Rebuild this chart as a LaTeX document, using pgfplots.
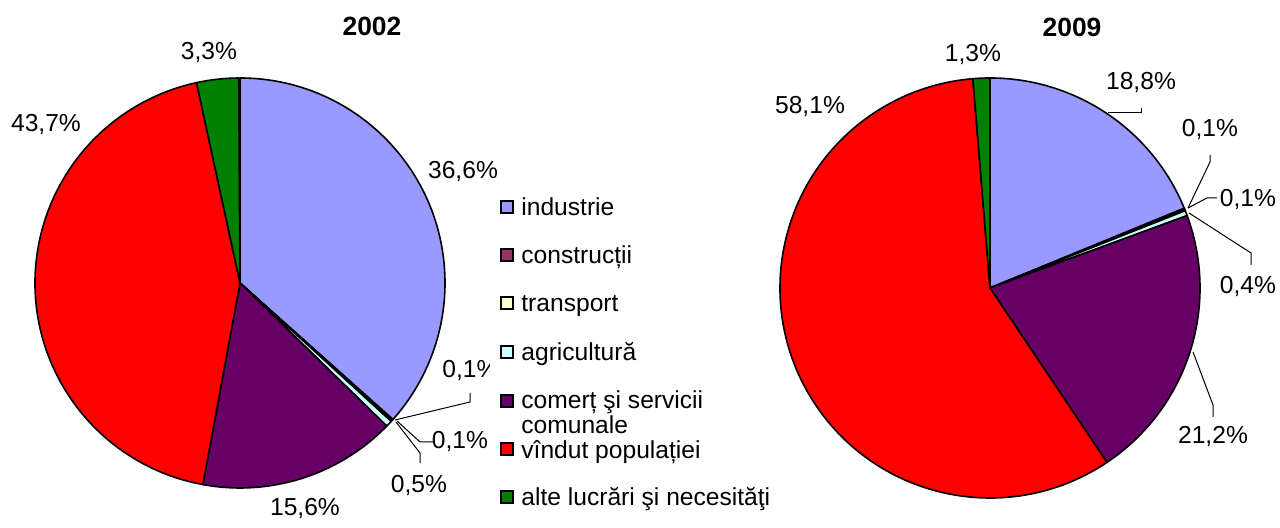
\documentclass[border=0pt]{standalone}
\usepackage{pgfplots}
\pgfplotsset{compat=1.18}
\usepackage{pgfplotstable}
\usepackage{fontspec}
\setmainfont{Liberation Sans}

\definecolor{indus}{HTML}{9999FF}
\definecolor{constr}{HTML}{993366}
\definecolor{transp}{HTML}{FFFFCC}
\definecolor{agri}{HTML}{CCFFFF}
\definecolor{comert}{HTML}{660066}
\definecolor{vindut}{HTML}{FF0000}
\definecolor{alte}{HTML}{008000}

% shares in percent, clockwise from 12 o'clock
\pgfplotstableread{
val col
36.6 indus
0.1 constr
0.1 transp
0.5 agri
15.6 comert
43.7 vindut
3.3 alte
}\yrA
\pgfplotstableread{
val col
18.8 indus
0.1 constr
0.1 transp
0.4 agri
21.2 comert
58.1 vindut
1.3 alte
}\yrB

% #1 table, #2 centre x, #3 centre y, #4 radius
\newcommand\pie[4]{%
  \pgfplotstablegetrowsof{#1}%
  \pgfmathtruncatemacro\pieLast{\pgfplotsretval-1}%
  \def\pieCum{0}%
  \pgfplotsforeachungrouped \i in {0,...,\pieLast}{%
    \pgfplotstablegetelem{\i}{val}\of{#1}\let\pieV\pgfplotsretval
    \pgfplotstablegetelem{\i}{col}\of{#1}\let\pieC\pgfplotsretval
    \pgfmathsetmacro\pieS{90-3.6*\pieCum}%
    \pgfmathsetmacro\pieCum{\pieCum+\pieV}%
    \pgfmathsetmacro\pieE{90-3.6*\pieCum}%
    \edef\temp{\noexpand\filldraw[fill=\pieC,draw=black,line width=0.8pt,line join=round]
      (axis cs:#2,#3) -- ++(\pieS:#4) arc[start angle=\pieS,end angle=\pieE,radius=#4] -- cycle;}%
    \temp
  }%
}

\tikzset{lab/.style={font=\fontsize{12.3pt}{14pt}\selectfont,inner sep=0pt,text height=8.86pt,text depth=0pt}}

\begin{document}
\begin{tikzpicture}
\begin{axis}[
  x=0.5pt,y=0.5pt,xmin=0,xmax=1280,ymin=0,ymax=519,
  hide axis,clip=false,scale only axis
]
\path (axis cs:0,0) rectangle (axis cs:1280,519);

\pie{\yrA}{240}{236}{102.5pt}
\pie{\yrB}{990}{231}{105pt}

% 2002
\node[lab,font=\bfseries\fontsize{13.2pt}{15pt}\selectfont] at (axis cs:372,492) {2002};
\node[lab] at (axis cs:209,468) {3,3\%};
\node[lab] at (axis cs:46,396) {43,7\%};
\node[lab] at (axis cs:463,349) {36,6\%};
\node[lab,anchor=west] at (axis cs:442,150) {0,1\%};
\node[lab] at (axis cs:460,79) {0,1\%};
\node[lab] at (axis cs:419,35) {0,5\%};
\node[lab] at (axis cs:305,12) {15,6\%};
\draw[line width=0.5pt] (axis cs:395,99) -- (axis cs:470,117) -- (axis cs:470,126);
\draw[line width=0.5pt] (axis cs:397,98) -- (axis cs:420,77) -- (axis cs:433,77);
\draw[line width=0.5pt] (axis cs:396,97) -- (axis cs:420,66) -- (axis cs:420,56);

% 2009
\node[lab,font=\bfseries\fontsize{13.2pt}{15pt}\selectfont] at (axis cs:1072,491) {2009};
\node[lab] at (axis cs:973,466) {1,3\%};
\node[lab] at (axis cs:1141,438) {18,8\%};
\node[lab] at (axis cs:810,414) {58,1\%};
\node[lab] at (axis cs:1210,391) {0,1\%};
\node[lab] at (axis cs:1248,321) {0,1\%};
\node[lab] at (axis cs:1248,234) {0,4\%};
\node[lab] at (axis cs:1213,84) {21,2\%};
\draw[line width=0.5pt] (axis cs:1108,406) -- (axis cs:1141,406) -- (axis cs:1141,411);
\draw[line width=0.5pt] (axis cs:1188,311) -- (axis cs:1210,357) -- (axis cs:1210,364);
\draw[line width=0.5pt] (axis cs:1188,311) -- (axis cs:1207,321) -- (axis cs:1217,321);
\draw[line width=0.5pt] (axis cs:1189,306) -- (axis cs:1251,266) -- (axis cs:1251,254);
\draw[line width=0.5pt] (axis cs:1193,167) -- (axis cs:1213,114) -- (axis cs:1213,102);

% legend
\fill[white] (axis cs:490,4) rectangle (axis cs:775,334);
\filldraw[fill=indus,draw=black,line width=0.8pt] (axis cs:501,306) rectangle (axis cs:513,318);
\filldraw[fill=constr,draw=black,line width=0.8pt] (axis cs:501,258) rectangle (axis cs:513,270);
\filldraw[fill=transp,draw=black,line width=0.8pt] (axis cs:501,210) rectangle (axis cs:513,222);
\filldraw[fill=agri,draw=black,line width=0.8pt] (axis cs:501,161) rectangle (axis cs:513,173);
\filldraw[fill=comert,draw=black,line width=0.8pt] (axis cs:501,112) rectangle (axis cs:513,124);
\filldraw[fill=vindut,draw=black,line width=0.8pt] (axis cs:501,64) rectangle (axis cs:513,76);
\filldraw[fill=alte,draw=black,line width=0.8pt] (axis cs:501,16) rectangle (axis cs:513,28);
\node[lab,anchor=west] at (axis cs:521,312) {industrie};
\node[lab,anchor=west] at (axis cs:521,264) {construcții};
\node[lab,anchor=west] at (axis cs:521,216) {transport};
\node[lab,anchor=west] at (axis cs:521,167) {agricultură};
\node[lab,anchor=west] at (axis cs:521,119) {comerț şi servicii};
\node[lab,anchor=west] at (axis cs:521,94) {comunale};
\node[lab,anchor=west] at (axis cs:521,69) {vîndut populației};
\node[lab,anchor=west] at (axis cs:521,22) {alte lucrări şi necesităţi};
\end{axis}
\end{tikzpicture}
\end{document}
